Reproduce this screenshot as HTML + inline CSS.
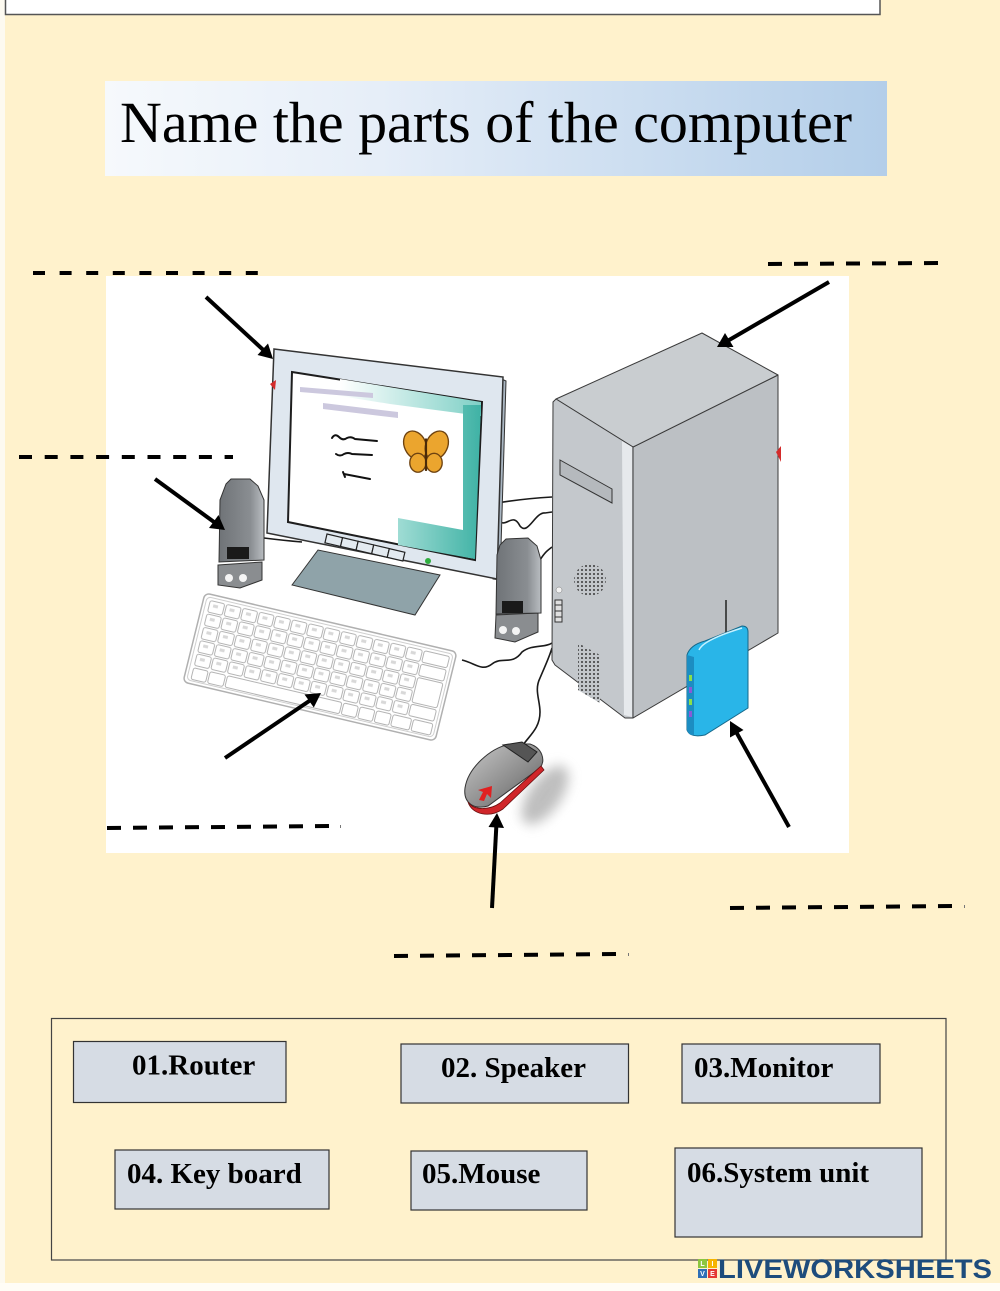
<!DOCTYPE html>
<html>
<head>
<meta charset="utf-8">
<style>
html,body{margin:0;padding:0;width:1000px;height:1291px;overflow:hidden;background:#FFF2CC;}
svg{display:block;}
</style>
</head>
<body>
<svg width="1000" height="1291" viewBox="0 0 1000 1291" xmlns="http://www.w3.org/2000/svg">
<defs>
  <linearGradient id="titleG" x1="0" y1="0" x2="1" y2="0">
    <stop offset="0" stop-color="#f6f9fc"/>
    <stop offset="0.35" stop-color="#e6eef8"/>
    <stop offset="1" stop-color="#b3cee9"/>
  </linearGradient>
  <linearGradient id="tealG" x1="0" y1="0" x2="1" y2="0">
    <stop offset="0" stop-color="#9fdcd4"/>
    <stop offset="1" stop-color="#3fb2a5"/>
  </linearGradient>
  <linearGradient id="tealTop" x1="0" y1="0" x2="1" y2="0">
    <stop offset="0" stop-color="#ffffff"/>
    <stop offset="1" stop-color="#7fd0c6"/>
  </linearGradient>
  <linearGradient id="mouseG" x1="0" y1="0" x2="1" y2="1">
    <stop offset="0" stop-color="#c9c9c9"/>
    <stop offset="0.6" stop-color="#8a8a8a"/>
    <stop offset="1" stop-color="#555"/>
  </linearGradient>
  <linearGradient id="spkG" x1="0" y1="0" x2="1" y2="0">
    <stop offset="0" stop-color="#6f7377"/>
    <stop offset="0.7" stop-color="#8a8e92"/>
    <stop offset="1" stop-color="#b9bdc1"/>
  </linearGradient>
  <pattern id="dots" width="4" height="4" patternUnits="userSpaceOnUse">
    <rect width="4" height="4" fill="#c3c7cb"/>
    <circle cx="2" cy="2" r="1" fill="#3a3a3a"/>
  </pattern>
  <pattern id="keys" x="6" y="5" width="17" height="13.5" patternUnits="userSpaceOnUse">
    <rect x="1" y="1" width="15" height="11.5" rx="2" fill="#fff" stroke="#b4b4b4" stroke-width="1"/>
    <rect x="5" y="4" width="5" height="3" fill="#d8d8d8"/>
  </pattern>
  <filter id="blur" x="-50%" y="-50%" width="200%" height="200%">
    <feGaussianBlur stdDeviation="6"/>
  </filter>
</defs>

<!-- page background -->
<rect x="0" y="0" width="1000" height="1291" fill="#FFF2CC"/>
<rect x="0" y="0" width="5" height="1291" fill="#fdfaf0"/>
<rect x="0" y="1283" width="1000" height="8" fill="#fffdf6"/>

<!-- top box -->
<rect x="5.5" y="-3" width="874.5" height="17.5" fill="#ffffff" stroke="#555" stroke-width="1.5"/>

<!-- title -->
<rect x="105" y="81" width="782" height="95" fill="url(#titleG)"/>
<text x="120" y="142" font-family="'Liberation Serif', serif" font-size="58" fill="#000" textLength="732" lengthAdjust="spacingAndGlyphs">Name the parts of the computer</text>

<!-- illustration background -->
<rect x="106" y="276" width="743" height="577" fill="#ffffff"/>

<!-- cables -->
<g fill="none" stroke="#1a1a1a" stroke-width="1.6">
  <path d="M497,503 C515,500 535,498 552,497"/>
  <path d="M497,518 C505,532 512,510 520,526 C528,536 535,512 545,513 L552,512"/>
  <path d="M540,560 C545,552 548,550 552,547"/>
  <path d="M462,660 C475,663 482,672 492,664 C502,656 512,666 522,652 C532,644 545,648 552,643"/>
  <path d="M523,745 C530,735 540,728 540,712 C540,700 534,690 540,678 C545,666 549,658 552,648"/>
  <path d="M264,538 C280,540 290,541 302,542"/>
</g>

<!-- tower -->
<g stroke="#3a3a3a" stroke-width="1" stroke-linejoin="round">
  <polygon points="633,447 778,375 778,633 633,718" fill="#bcc0c4"/>
  <polygon points="556,399 702,333 778,375 633,447" fill="#c9cdd0"/>
  <polygon points="553,402 556,399 633,447 633,718 625,718 555,665 552,660" fill="#c4c8cc"/>
</g>
<polygon points="622,441 632,447 632,717 624,715" fill="#e6e9ec"/>
<polygon points="560,460 612,489 612,503 560,475" fill="#b5b9bd" stroke="#333" stroke-width="1"/>
<circle cx="590" cy="580" r="16" fill="url(#dots)"/>
<circle cx="559" cy="590" r="3" fill="#f2f2f2" stroke="#777" stroke-width="0.5"/>
<rect x="555" y="600" width="7" height="22" fill="#e0e0e0" stroke="#333" stroke-width="1"/>
<g stroke="#333" stroke-width="1"><line x1="555" y1="605" x2="562" y2="605"/><line x1="555" y1="611" x2="562" y2="611"/><line x1="555" y1="617" x2="562" y2="617"/></g>
<polygon points="578,643 600,655 600,703 578,690" fill="url(#dots)"/>
<polygon points="776,452 781,446 781,462" fill="#d42b2b"/>

<!-- router -->
<line x1="726" y1="600" x2="726" y2="633" stroke="#222" stroke-width="1.5"/>
<path d="M687,655 Q690,645 705,641 L742,626 Q748,626 748,632 L748,708 L705,735 Q690,738 687,730 Z" fill="#29b5e8" stroke="#16688a" stroke-width="1"/>
<path d="M687,655 L694,657 L694,735 Q689,736 687,730 Z" fill="#1c8dc2"/>
<path d="M699,650 Q703,640 742,628" fill="none" stroke="#c7f1ff" stroke-width="1.5"/>
<rect x="689" y="675" width="3" height="6" fill="#8be04a"/>
<rect x="689" y="687" width="3" height="6" fill="#8a5ad8"/>
<rect x="689" y="699" width="3" height="6" fill="#8be04a"/>
<rect x="689" y="711" width="3" height="6" fill="#8a5ad8"/>

<!-- monitor base -->
<polygon points="292,585 318,550 440,575 415,615" fill="#8fa3a9" stroke="#333" stroke-width="1"/>

<!-- monitor -->
<polygon points="497,377 506,381 500,580 493,579" fill="#a9b6c2" stroke="#333" stroke-width="1"/>
<polygon points="274,349 503,377 497,579 267,533" fill="#dfe7ef" stroke="#333" stroke-width="1.5"/>
<polygon points="292,372 482,402 475,560 288,522" fill="#ffffff" stroke="#1e1e1e" stroke-width="2"/>
<polygon points="340,379 481,402 481,416 390,404 340,396" fill="url(#tealTop)"/>
<polygon points="398,518 463,530 463,405 481,405 475,559 398,545" fill="url(#tealG)"/>
<polygon points="300,387 373,393 373,398 300,392" fill="#ccc8de"/>
<polygon points="323,403 398,412 398,418 323,409" fill="#ccc8de"/>
<g fill="none" stroke="#111" stroke-width="2" stroke-linecap="round">
  <path d="M332,438 q3,-5 7,-1 q4,4 8,1 q4,-2 8,1 l22,2"/>
  <path d="M336,454 q4,3 8,0 q4,-2 8,0 l20,1"/>
  <path d="M343,472 l2,5 M344,474 l26,5"/>
</g>
<g transform="translate(426,452) scale(1.35)" stroke="#6d4210" stroke-width="1" fill="#eba52e">
  <ellipse cx="-8" cy="-5" rx="8" ry="11" transform="rotate(-25 -8 -5)"/>
  <ellipse cx="8" cy="-5" rx="8" ry="11" transform="rotate(25 8 -5)"/>
  <ellipse cx="-6" cy="8" rx="6" ry="7"/>
  <ellipse cx="6" cy="8" rx="6" ry="7"/>
  <line x1="0" y1="-10" x2="0" y2="14" stroke="#4a2a08" stroke-width="1.6"/>
</g>
<g transform="translate(327,534) rotate(13.2)" fill="#e3eaf0" stroke="#222" stroke-width="1.2">
  <rect x="0" y="0" width="16" height="9"/>
  <rect x="16" y="0" width="16" height="9"/>
  <rect x="32" y="0" width="16" height="9"/>
  <rect x="48" y="0" width="16" height="9"/>
  <rect x="64" y="0" width="16" height="9"/>
</g>
<circle cx="428" cy="561" r="3" fill="#2fae3f"/>
<polygon points="270,384 276,380 275,390" fill="#d42b2b"/>

<!-- left speaker -->
<polygon points="218,565 262,562 262,580 240,588 218,585" fill="#8a8d90" stroke="#333" stroke-width="1"/>
<circle cx="229" cy="578" r="4" fill="#f4f4f4"/>
<circle cx="243" cy="578" r="4" fill="#f4f4f4"/>
<path d="M226,484 L231,479 L250,479 L258,486 L264,500 L264,560 L219,562 L220,500 Z" fill="url(#spkG)" stroke="#333" stroke-width="1"/>
<rect x="227" y="547" width="22" height="12" fill="#1a1a1a"/>

<!-- right speaker -->
<polygon points="496,615 538,613 538,632 515,642 495,638" fill="#8a8d90" stroke="#333" stroke-width="1"/>
<circle cx="503" cy="630" r="4" fill="#f4f4f4"/>
<circle cx="516" cy="631" r="4" fill="#f4f4f4"/>
<path d="M500,545 L506,539 L528,538 L537,546 L541,560 L541,613 L496,614 L497,555 Z" fill="url(#spkG)" stroke="#333" stroke-width="1"/>
<rect x="502" y="601" width="21" height="12" fill="#1a1a1a"/>

<!-- keyboard -->
<g transform="matrix(0.969,0.227,-0.244,0.989,205,593)">
  <rect x="0" y="0" width="260" height="90" rx="5" fill="#ffffff" stroke="#b0b0b0" stroke-width="1.5"/>
  <rect x="3" y="3" width="254" height="84" rx="4" fill="none" stroke="#cfcfcf" stroke-width="1"/>
  <rect x="6" y="5" width="221" height="67.5" fill="url(#keys)"/>
  <g fill="#fff" stroke="#b4b4b4" stroke-width="1">
    <rect x="228" y="6" width="26" height="11.5" rx="2"/>
    <rect x="228" y="19.5" width="26" height="11.5" rx="2"/>
    <rect x="228" y="33" width="26" height="25" rx="2"/>
    <rect x="228" y="60" width="26" height="11.5" rx="2"/>
    <rect x="7" y="74" width="15" height="11.5" rx="2"/>
    <rect x="24" y="74" width="16" height="11.5" rx="2"/>
    <rect x="42" y="74" width="118" height="11.5" rx="2"/>
    <rect x="162" y="74" width="15" height="11.5" rx="2"/>
    <rect x="179" y="74" width="15" height="11.5" rx="2"/>
    <rect x="196" y="74" width="15" height="11.5" rx="2"/>
    <rect x="213" y="74" width="19" height="11.5" rx="2"/>
    <rect x="234" y="74" width="20" height="11.5" rx="2"/>
  </g>
</g>

<!-- mouse -->
<ellipse cx="545" cy="795" rx="16" ry="34" fill="#8a8a8a" opacity="0.55" filter="url(#blur)" transform="rotate(35 545 795)"/>
<path d="M510,744 C490,748 468,768 465,788 C463,803 474,810 488,806 L540,768 C546,760 542,748 530,744 Z" fill="url(#mouseG)" stroke="#333" stroke-width="1"/>
<path d="M468,802 C474,811 490,810 500,803 L541,766 L544,770 L503,809 C490,818 472,815 468,802 Z" fill="#d0262a" stroke="#6a1010" stroke-width="0.8"/>
<path d="M503,745 L522,742 L537,752 L528,762 Z" fill="#555" stroke="#222" stroke-width="1"/>
<polygon points="492,786 478,790 483,792 479,800 484,801 487,794 491,798" fill="#e02020"/>

<!-- dashed lines -->
<g stroke="#000" stroke-width="4" fill="none">
  <line x1="33" y1="273" x2="258" y2="273" stroke-dasharray="12 14.6"/>
  <line x1="768" y1="264" x2="940" y2="263" stroke-dasharray="14 12"/>
  <line x1="19" y1="457" x2="233" y2="457" stroke-dasharray="13 12.7"/>
  <line x1="107" y1="828" x2="330" y2="826" stroke-dasharray="14 12"/>
  <line x1="730" y1="908" x2="953" y2="906" stroke-dasharray="14 12"/>
  <line x1="394" y1="956" x2="617" y2="954" stroke-dasharray="14 12"/>
</g>
<g fill="#777">
  <rect x="340" y="825" width="1" height="3"/>
  <rect x="964" y="905" width="1" height="3"/>
  <rect x="628" y="953" width="1" height="3"/>
</g>

<!-- arrows -->
<g stroke="#000" stroke-width="4" stroke-linecap="butt">
  <line x1="206" y1="297" x2="265.7" y2="352.2"/>
  <line x1="155" y1="479" x2="216.9" y2="524.1"/>
  <line x1="829" y1="282" x2="725.7" y2="342"/>
  <line x1="225" y1="758" x2="312.7" y2="698.6"/>
  <line x1="492" y1="908" x2="496.5" y2="823"/>
  <line x1="789" y1="827" x2="734.9" y2="729.7"/>
</g>
<g fill="#000">
  <polygon points="273,359 257.5,355 268,343.5"/>
  <polygon points="225,530 209,528 218.5,515"/>
  <polygon points="717,347 725,333 733.5,347"/>
  <polygon points="321,693 313.8,707.5 304.5,694.5"/>
  <polygon points="497,813 504,828 488.5,827"/>
  <polygon points="730,721 743.5,730 730,737.5"/>
</g>

<!-- answer box -->
<rect x="51.5" y="1018.5" width="894.5" height="241.5" fill="none" stroke="#444" stroke-width="1.2"/>
<g fill="#d6dce4" stroke="#333" stroke-width="1.2">
  <rect x="73.5" y="1041.5" width="212.5" height="61"/>
  <rect x="401" y="1044" width="227.5" height="59"/>
  <rect x="682" y="1044" width="198" height="59"/>
  <rect x="115" y="1150" width="214" height="59"/>
  <rect x="411" y="1151" width="176" height="59"/>
  <rect x="675" y="1148" width="247" height="89"/>
</g>
<g font-family="'Liberation Serif', serif" font-weight="bold" font-size="29" fill="#000">
  <text x="132" y="1074.5">01.Router</text>
  <text x="441" y="1077">02. Speaker</text>
  <text x="694" y="1077">03.Monitor</text>
  <text x="127" y="1183">04. Key board</text>
  <text x="422" y="1183">05.Mouse</text>
  <text x="687" y="1182">06.System unit</text>
</g>

<!-- logo -->
<rect x="698" y="1259" width="9" height="9" fill="#8dc63f"/>
<rect x="708" y="1259" width="9" height="9" fill="#f6b400"/>
<rect x="698" y="1269" width="9" height="9" fill="#2f6fb6"/>
<rect x="708" y="1269" width="9" height="9" fill="#e53935"/>
<g font-family="'Liberation Sans', sans-serif" font-weight="bold" font-size="7" fill="#fff" text-anchor="middle">
  <text x="702.5" y="1266">L</text>
  <text x="712.5" y="1266">I</text>
  <text x="702.5" y="1276">V</text>
  <text x="712.5" y="1276">E</text>
</g>
<text x="718" y="1278" font-family="'Liberation Sans', sans-serif" font-weight="bold" font-size="27" fill="#1d4c7c" textLength="274" lengthAdjust="spacingAndGlyphs">LIVEWORKSHEETS</text>
</svg>
</body>
</html>
